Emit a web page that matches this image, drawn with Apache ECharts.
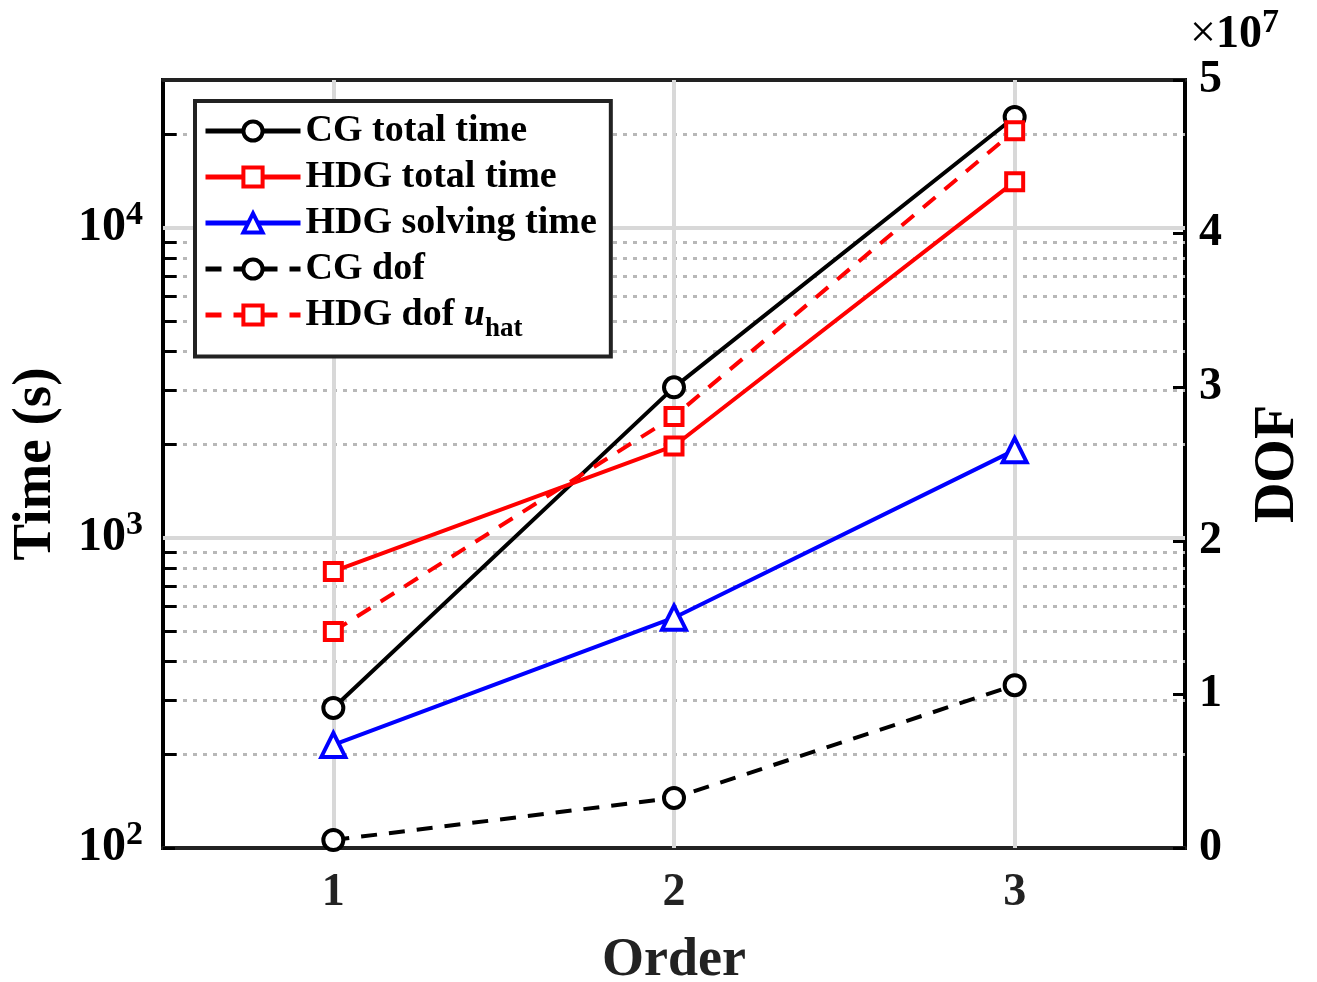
<!DOCTYPE html>
<html>
<head>
<meta charset="utf-8">
<script src="https://cdn.jsdelivr.net/npm/echarts@6/dist/echarts.min.js"></script>
<style>
  html, body { margin: 0; padding: 0; background: #fff; }
  #main { width: 1317px; height: 982px; }
</style>
</head>
<body>
<div id="main"></div>
<script>
var orders = [1, 2, 3];
var cgTotal = [283, 3060, 22800];
var hdgTotal = [780, 1980, 14100];
var hdgSolve = [215, 553, 1920];
var cgDof = [0.052e7, 0.326e7, 1.06e7];
var hdgDof = [1.41e7, 2.81e7, 4.67e7];
var minorGrid = [200, 300, 400, 500, 600, 700, 800, 900,
    2000, 3000, 4000, 5000, 6000, 7000, 8000, 9000, 20000];
var majorGrid = [1000, 10000];

var FONT = '"Liberation Serif", "Times New Roman", serif';
var X_MIN = 0.5, X_MAX = 3.5;
var TICK_X = 0.04; // minor tick length in x units

function pairs(ys) {
    return orders.map(function (x, i) { return [x, ys[i]]; });
}

var chart = echarts.init(document.getElementById('main'));

var gridLines = minorGrid.map(function (v) {
    return { yAxis: v, lineStyle: { color: '#b8b8b8', width: 3, type: [4, 6] } };
}).concat(majorGrid.map(function (v) {
    return { yAxis: v, lineStyle: { color: '#d8d8d8', width: 4, type: 'solid' } };
})).concat(orders.map(function (v) {
    return { xAxis: v, lineStyle: { color: '#d8d8d8', width: 4, type: 'solid' } };
})).concat(minorGrid.map(function (v) {
    return [{ coord: [X_MIN, v], lineStyle: { color: '#000', width: 3, type: 'solid' } },
            { coord: [X_MIN + TICK_X, v] }];
}));

var xAxisBase = {
    type: 'value', min: X_MIN, max: X_MAX,
    axisLine: { onZero: false, lineStyle: { color: '#222', width: 4 } },
    axisTick: { inside: true, length: 10, customValues: orders, lineStyle: { color: '#222', width: 3 } },
    splitLine: { show: false }
};

var option = {
    backgroundColor: '#fff',
    animation: false,
    grid: {
        left: 163, right: 132, top: 80, bottom: 134,
        outerBoundsMode: 'none', containLabel: false,
        show: true, borderColor: '#000', borderWidth: 4,
        backgroundColor: 'transparent'
    },
    legend: {
        left: 195, top: 101, z: 100,
        orient: 'vertical',
        backgroundColor: '#fff',
        borderColor: '#222', borderWidth: 4, borderRadius: 0,
        padding: [11, 14, 14, 8],
        itemWidth: 95, itemHeight: 24, itemGap: 8,
        lineStyle: { width: 5 },
        itemStyle: { borderWidth: 4 },
        textStyle: {
            fontFamily: FONT, fontWeight: 'bold', fontSize: 38, color: '#000',
            rich: {
                i: { fontFamily: FONT, fontWeight: 'bold', fontStyle: 'italic', fontSize: 38 },
                sub: { fontFamily: FONT, fontSize: 27, verticalAlign: 'bottom', padding: [28, 0, 0, 0] }
            }
        },
        formatter: function (name) {
            if (name === 'HDG dof u_hat') return 'HDG dof {i|u}{sub|hat}';
            return name;
        },
        data: ['CG total time', 'HDG total time', 'HDG solving time', 'CG dof', 'HDG dof u_hat']
    },
    xAxis: [Object.assign({}, xAxisBase, {
        position: 'bottom',
        name: 'Order', nameLocation: 'middle', nameGap: 86,
        nameTextStyle: { fontFamily: FONT, fontWeight: 'bold', fontSize: 54, color: '#222' },
        axisLabel: {
            customValues: orders, margin: 22,
            fontFamily: FONT, fontWeight: 'bold', fontSize: 46, color: '#222'
        }
    }), Object.assign({}, xAxisBase, {
        position: 'top',
        axisLabel: { show: false }
    })],
    yAxis: [{
        type: 'log', logBase: 10, min: 100, max: 30000,
        name: 'Time (s)', nameLocation: 'middle', nameGap: 100, nameRotate: 90,
        nameTextStyle: { fontFamily: FONT, fontWeight: 'bold', fontSize: 55, color: '#000' },
        axisLine: { show: true, lineStyle: { color: '#000', width: 4 } },
        axisTick: { inside: true, length: 12, lineStyle: { color: '#000', width: 3 } },
        axisLabel: {
            margin: 20, showMaxLabel: false,
            fontFamily: FONT, fontWeight: 'bold', fontSize: 48, color: '#000',
            formatter: function (v) {
                var e = Math.round(Math.log10(v));
                return '10{sup|' + e + '}';
            },
            rich: {
                sup: { fontFamily: FONT, fontWeight: 'bold', fontSize: 34, verticalAlign: 'top', padding: [0, 0, 26, 0] }
            }
        },
        splitLine: { show: false }
    }, {
        type: 'value', min: 0, max: 5e7, interval: 1e7, position: 'right',
        name: 'DOF', nameLocation: 'middle', nameGap: 66, nameRotate: 90,
        nameTextStyle: { fontFamily: FONT, fontWeight: 'bold', fontSize: 56, color: '#000' },
        axisLine: { show: true, lineStyle: { color: '#000', width: 4 } },
        axisTick: { inside: true, length: 12, lineStyle: { color: '#000', width: 3 } },
        axisLabel: {
            margin: 14,
            fontFamily: FONT, fontWeight: 'bold', fontSize: 46, color: '#000',
            formatter: function (v) { return String(Math.round(v / 1e7)); }
        },
        splitLine: { show: false }
    }],
    graphic: [{
        type: 'text', left: 1190, top: 6, z: 100,
        style: {
            text: '{x|×}10{sup|7}',
            font: 'bold 46px ' + FONT, fill: '#000',
            rich: {
                x: { font: '46px ' + FONT, fill: '#000' },
                sup: { font: 'bold 34px ' + FONT, fill: '#000', verticalAlign: 'top', padding: [0, 0, 24, 0] }
            }
        }
    }],
    series: [{
        name: 'grid', type: 'line', data: [], silent: true, z: 1,
        markLine: {
            silent: true, symbol: 'none', label: { show: false }, animation: false,
            data: gridLines
        }
    }, {
        name: 'CG total time', type: 'line', yAxisIndex: 0, data: pairs(cgTotal),
        symbol: 'circle', symbolSize: 20, z: 5,
        lineStyle: { color: '#000', width: 4 },
        itemStyle: { color: '#fff', borderColor: '#000', borderWidth: 4 }
    }, {
        name: 'HDG total time', type: 'line', yAxisIndex: 0, data: pairs(hdgTotal),
        symbol: 'rect', symbolSize: 17, z: 5,
        lineStyle: { color: '#ff0000', width: 4 },
        itemStyle: { color: '#fff', borderColor: '#ff0000', borderWidth: 4 }
    }, {
        name: 'HDG solving time', type: 'line', yAxisIndex: 0, data: pairs(hdgSolve),
        symbol: 'triangle', symbolSize: 24, z: 5,
        lineStyle: { color: '#0000ff', width: 4 },
        itemStyle: { color: '#fff', borderColor: '#0000ff', borderWidth: 4 }
    }, {
        name: 'CG dof', type: 'line', yAxisIndex: 1, data: pairs(cgDof),
        symbol: 'circle', symbolSize: 20, z: 5,
        lineStyle: { color: '#000', width: 4, type: [16, 12] },
        itemStyle: { color: '#fff', borderColor: '#000', borderWidth: 4 }
    }, {
        name: 'HDG dof u_hat', type: 'line', yAxisIndex: 1, data: pairs(hdgDof),
        symbol: 'rect', symbolSize: 17, z: 5,
        lineStyle: { color: '#ff0000', width: 4, type: [16, 12] },
        itemStyle: { color: '#fff', borderColor: '#ff0000', borderWidth: 4 }
    }]
};

chart.setOption(option);
</script>
</body>
</html>
